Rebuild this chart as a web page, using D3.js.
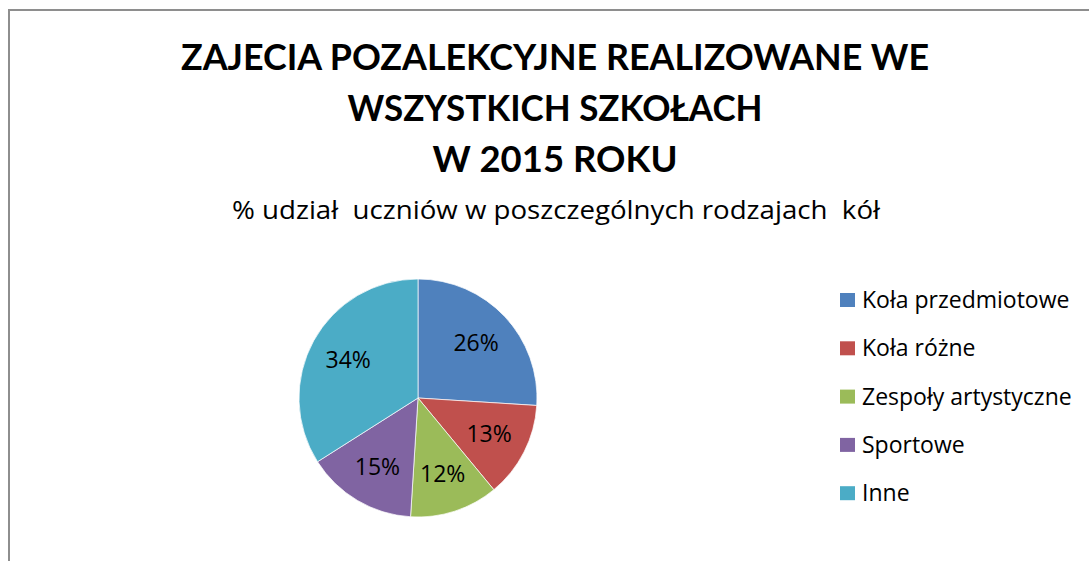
<!DOCTYPE html>
<html>
<head>
<meta charset="utf-8">
<script src="https://cdn.jsdelivr.net/npm/d3@7"></script>
<style>
  body { margin: 0; background: #fff; }
  text { font-family: "Open Sans", Lato, sans-serif; }
</style>
</head>
<body>
<div id="chart"></div>
<script>
// dane
const categories = ["Koła przedmiotowe", "Koła różne", "Zespoły artystyczne", "Sportowe", "Inne"];
const values = [26, 13, 12, 15, 34];
const colors = ["#4F81BD", "#C0504D", "#9BBB59", "#8064A2", "#4BACC6"];
const titleLines = ["ZAJECIA POZALEKCYJNE REALIZOWANE WE", "WSZYSTKICH SZKOŁACH", "W 2015 ROKU"];
const subtitle = "% udział  uczniów w poszczególnych rodzajach  kół";

const width = 1089, height = 561;

const svg = d3.select("#chart").append("svg")
  .attr("width", width)
  .attr("height", height);

// ramka
svg.append("rect")
  .attr("x", 9).attr("y", 10)
  .attr("width", width + 20).attr("height", height + 20)
  .attr("fill", "#fff")
  .attr("stroke", "#8e8e8e")
  .attr("stroke-width", 2);

// tytuł
const titleWidths = [748, 415, 245];
svg.selectAll("text.title")
  .data(titleLines)
  .join("text")
  .attr("class", "title")
  .attr("x", 555)
  .attr("y", (d, i) => 70 + i * 51)
  .attr("text-anchor", "middle")
  .attr("font-size", 36)
  .attr("font-weight", "bold")
  .style("font-family", "Lato, sans-serif")
  .attr("fill", "#000")
  .attr("textLength", (d, i) => titleWidths[i])
  .attr("lengthAdjust", "spacingAndGlyphs")
  .text(d => d);

svg.append("text")
  .attr("x", 556)
  .attr("y", 219)
  .attr("text-anchor", "middle")
  .attr("font-size", 26)
  .attr("fill", "#000")
  .attr("textLength", 648)
  .attr("lengthAdjust", "spacingAndGlyphs")
  .style("white-space", "pre")
  .text(subtitle);

// wykres kołowy
const cx = 418, cy = 398, r = 119;
const pie = d3.pie().sort(null).value(d => d);
const arcs = pie(values);
const arc = d3.arc().innerRadius(0).outerRadius(r);
const labelArc = d3.arc().innerRadius(r * 0.67).outerRadius(r * 0.67);

const g = svg.append("g").attr("transform", `translate(${cx},${cy})`);

g.selectAll("path")
  .data(arcs)
  .join("path")
  .attr("d", arc)
  .attr("fill", (d, i) => colors[i])
  .attr("stroke", "#fff")
  .attr("stroke-width", 0.7);

g.selectAll("text")
  .data(arcs)
  .join("text")
  .attr("transform", d => `translate(${labelArc.centroid(d)})`)
  .attr("text-anchor", "middle")
  .attr("dy", "0.35em")
  .attr("font-size", 23)
  .attr("fill", "#000")
  .text(d => d.data + "%");

// legenda
const legend = svg.append("g").attr("transform", "translate(840,300)");
const rowH = 48.3;

legend.selectAll("rect")
  .data(categories)
  .join("rect")
  .attr("x", 0)
  .attr("y", (d, i) => i * rowH - 7)
  .attr("width", 15)
  .attr("height", 14)
  .attr("fill", (d, i) => colors[i]);

legend.selectAll("text")
  .data(categories)
  .join("text")
  .attr("x", 22)
  .attr("y", (d, i) => i * rowH)
  .attr("dy", "0.35em")
  .attr("font-size", 23)
  .attr("fill", "#000")
  .text(d => d);
</script>
</body>
</html>
